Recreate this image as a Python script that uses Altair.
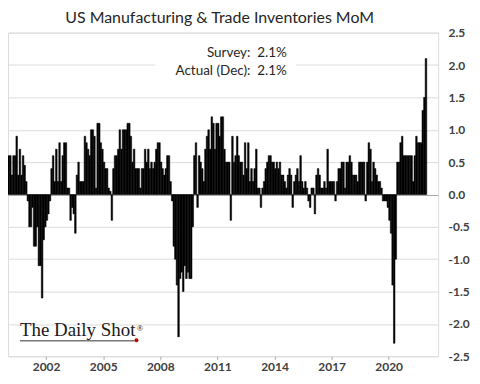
import altair as alt
import pandas as pd

# Monthly % change, Jan 2000 .. Dec 2021
v2000 = [0.6, 0.6, 0.3, 0.6, 0.6, 0.9, 0.3, 0.7, 0.3, 0.6, 0.45, 0.2]
v2001 = [-0.1, -0.5, -0.5, -0.2, -0.8, -0.8, -0.5, -1.1, -1.1, -1.6, -0.7, -0.5]
v2002 = [-0.4, -0.3, -0.1, 0.4, 0.6, 0.2, 0.7, 0.2, 0.8, 0.2, 0.6, 0.8]
v2003 = [0.8, 0.1, 0.1, -0.4, -0.2, -0.3, -0.6, 0.3, 0.5, 0.2, 0.2, 0.2]
v2004 = [0.9, 0.8, 0.7, 0.6, 1.0, 1.0, 0.9, 0.1, 1.1, 1.1, 0.8, 0.7]
v2005 = [0.5, 0.4, 0.4, 0.1, 0.05, -0.4, 0.4, 0.6, 0.6, 0.7, 1.0, 0.7]
v2006 = [1.0, 1.0, 1.0, 1.1, 1.1, 0.9, 0.5, 0.7, 0.4, 0.4, 0.4, 0.1]
v2007 = [0.4, 0.4, 0.7, 0.5, 0.7, 0.4, 0.5, 0.4, 0.5, 0.7, 0.8, 0.8]
v2008 = [0.5, 0.4, 0.3, 0.4, 0.6, 0.6, 0.2, -0.1, -0.8, -1.0, -1.4, -2.2]
v2009 = [-1.3, -1.2, -1.5, -1.1, -1.3, -1.2, -1.3, -1.3, -0.5, 0.6, 0.8, -0.2]
v2010 = [0.6, 0.5, 0.4, 0.2, 0.7, 0.9, 1.0, 0.7, 1.2, 1.1, 0.7, 1.1]
v2011 = [1.1, 0.9, 1.2, 1.2, 0.7, 0.5, 0.5, 0.5, -0.4, 0.9, 0.5, 0.6]
v2012 = [0.9, 0.6, 0.5, 0.5, 0.3, 0.8, 0.4, 0.8, 0.2, 0.4, 0.2, 0.4]
v2013 = [0.7, 0.1, 0.1, -0.2, 0.1, 0.2, 0.4, 0.5, 0.6, 0.6, 0.5, 0.5]
v2014 = [0.4, 0.5, 0.4, 0.5, 0.3, 0.3, 0.2, 0.1, 0.3, 0.4, 0.3, -0.2]
v2015 = [0.2, 0.3, 0.4, 0.2, 0.6, 0.2, 0.1, 0.2, 0.1, -0.1, -0.2, 0.1]
v2016 = [0.1, -0.3, 0.3, 0.4, 0.3, 0.1, 0.1, 0.2, 0.1, 0.7, 0.2, 0.2]
v2017 = [0.2, 0.2, -0.1, 0.2, 0.4, 0.4, 0.5, 0.5, 0.1, 0.5, 0.5, 0.6]
v2018 = [0.5, 0.3, 0.3, 0.3, 0.2, 0.5, 0.5, 0.5, 0.5, -0.1, 0.5, 0.8]
v2019 = [0.7, 0.2, 0.5, 0.4, 0.3, 0.2, 0.2, 0.1, -0.1, -0.1, -0.1, -0.2]
v2020 = [-0.4, -0.6, -1.4, -2.3, -1.0, 0.5, 0.5, 0.8, 0.9, 0.6, 0.6, 0.6]
v2021 = [0.6, 0.6, 0.6, 0.2, 0.6, 0.9, 0.8, 0.8, 0.8, 1.3, 1.5, 2.1]

years = list(range(2000, 2022))
series = [v2000, v2001, v2002, v2003, v2004, v2005, v2006, v2007, v2008, v2009,
          v2010, v2011, v2012, v2013, v2014, v2015, v2016, v2017, v2018, v2019,
          v2020, v2021]

tick_years = [2002, 2005, 2008, 2011, 2014, 2017, 2020]
y_ticks = [-2.5, -2.0, -1.5, -1.0, -0.5, 0.0, 0.5, 1.0, 1.5, 2.0, 2.5]

title_text = "US Manufacturing & Trade Inventories MoM"
note_text = "Survey:\u00a0\u00a02.1%\nActual (Dec):\u00a0\u00a02.1%"
logo_text = "The Daily Shot"

rows = []
for yr, vals in zip(years, series):
    for mi, v in enumerate(vals):
        ny, nm = (yr, mi + 2) if mi < 11 else (yr + 1, 1)
        rows.append({"start": f"{yr}-{mi + 1:02d}-01",
                     "end": f"{ny}-{nm:02d}-01",
                     "value": v})
df = pd.DataFrame(rows)

W, H = 432, 325

x_enc = alt.X(
    "start:T",
    scale=alt.Scale(
        type="utc",
        domain=[alt.DateTime(year=2000, month=1, date=1, utc=True),
                alt.DateTime(year=2022, month=8, date=7, utc=True)],
    ),
    axis=alt.Axis(
        values=[alt.DateTime(year=y, month=1, date=1, utc=True) for y in tick_years],
        labelExpr="utcFormat(datum.value, '%Y')", title=None, grid=False, domain=False,
        tickSize=3, tickColor="#a6a6a6", labelPadding=2, labelOverlap=False,
        labelFont="Lato", labelFontWeight="bold", labelFontSize=12,
        labelColor="#404040",
    ),
)

y_enc = alt.Y(
    "value:Q",
    scale=alt.Scale(domain=[-2.5, 2.5], nice=False),
    axis=alt.Axis(
        orient="right", values=y_ticks, title=None, domain=False, ticks=False,
        labelExpr="datum.value < 0 ? '-' + format(-datum.value, '.1f') : format(datum.value, '.1f')",
        labelPadding=10, labelAlign="left", labelOverlap=False, labelSeparation=0,
        labelFont="Lato", labelFontWeight="bold", labelFontSize=12,
        labelColor="#404040", grid=True,
        gridColor=alt.condition("datum.value === 0", alt.value("#a6a6a6"), alt.value("#dcdcdc")),
        gridWidth=1,
    ),
)

bars = alt.Chart(df).mark_bar(color="black", stroke="black", strokeWidth=0.5).encode(
    x=x_enc, x2="end:T", y=y_enc, y2=alt.datum(0)
)

title = alt.Chart(pd.DataFrame({"t": [title_text]})).mark_text(
    font="Lato", fontSize=16, color="#262626", align="center", baseline="middle"
).encode(text="t:N", x=alt.value(212.5), y=alt.value(-15))

box = alt.Chart(pd.DataFrame({"k": [1]})).mark_rect(color="white").encode(
    x=alt.value(148), x2=alt.value(289), y=alt.value(10), y2=alt.value(48)
)

note = alt.Chart(pd.DataFrame({"t": [note_text]})).mark_text(
    font="Lato", fontSize=13.5, color="#262626", align="right", baseline="middle",
    lineBreak="\n", lineHeight=18,
).encode(text="t:N", x=alt.value(280), y=alt.value(20))

logo = alt.Chart(pd.DataFrame({"t": [logo_text]})).mark_text(
    font="Liberation Serif", fontSize=19, color="#1a1a1a", align="left",
    baseline="alphabetic",
).encode(text="t:N", x=alt.value(12), y=alt.value(305))

logo_reg = alt.Chart(pd.DataFrame({"t": ["®"]})).mark_text(
    font="Liberation Serif", fontSize=9, color="#1a1a1a", align="left",
    baseline="middle",
).encode(text="t:N", x=alt.value(129), y=alt.value(297))

underline = alt.Chart(pd.DataFrame({"k": [1]})).mark_rule(
    color="#333333", strokeWidth=1
).encode(x=alt.value(12), x2=alt.value(127), y=alt.value(309.5))

dot = alt.Chart(pd.DataFrame({"k": [1]})).mark_point(
    filled=True, color="#c00000", size=16, opacity=1
).encode(x=alt.value(129), y=alt.value(309))

chart = alt.layer(bars, box, title, note, logo, logo_reg, underline, dot).properties(
    width=W, height=H,
    autosize=alt.AutoSizeParams(type="none"),
    padding={"left": 0, "top": 24, "right": 34, "bottom": 17},
).configure_view(stroke=None).configure(background="white")

chart.save("out.html", embed_options={"renderer": "svg", "actions": False})
